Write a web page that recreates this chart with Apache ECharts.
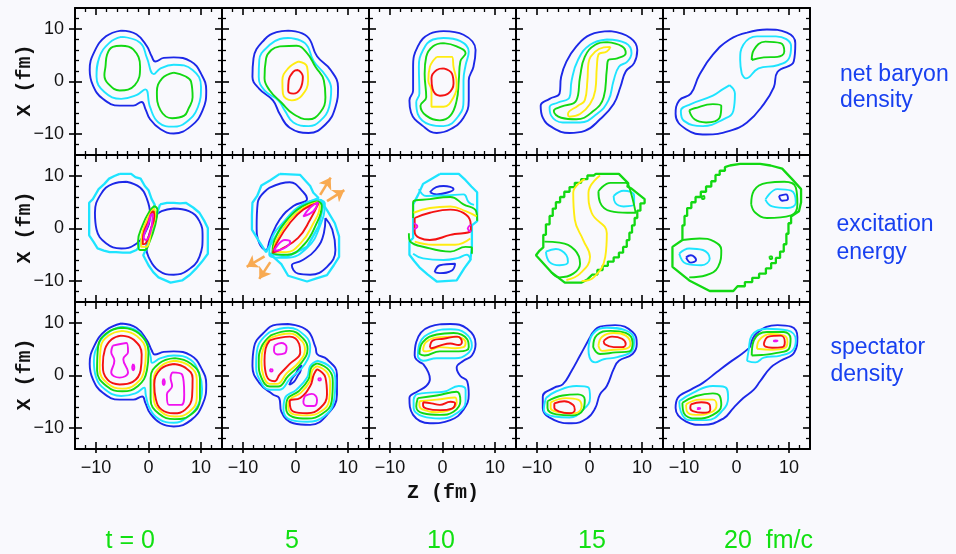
<!DOCTYPE html>
<html>
<head>
<meta charset="utf-8">
<script src="https://cdn.jsdelivr.net/npm/echarts@6/dist/echarts.min.js"></script>
<style>
  html, body { margin: 0; padding: 0; background: #f9f9fd; }
  #chart { width: 956px; height: 554px; }
</style>
</head>
<body>
<div id="chart"></div>
<script>
// ---- axes and labels ----
const axisRange = [-14, 14];
const majorTicks = [-10, 0, 10];
const minorTicks = [-12, -8, -6, -4, -2, 2, 4, 6, 8, 12];
const timeLabels = ['t = 0', '5', '10', '15', '20  fm/c'];
const quantityLabels = [['net baryon', 'density'], ['excitation', 'energy'], ['spectator', 'density']];

// ---- contour rings: [level, [[Z, X], ...]] in fm; level 1 (lowest) .. 6 (highest) ----
const baryonT0 = [
  [1, [[-5.2,9.7],[-2.3,9.0],[-0.3,6.7],[0.6,4.8],[1.3,3.8],[2.9,4.5],[4.8,4.6],[8.1,3.8],[10,1.5],[11,-1.7],[10.3,-5.5],[8.1,-8.5],[4.8,-9.9],[2.3,-9.1],[0.3,-7.2],[-0.6,-5.2],[-1.3,-3.9],[-2.9,-4.6],[-5.5,-4.6],[-8.7,-3.3],[-10.6,-0.7],[-11.2,2.2],[-10.3,5.7],[-8.1,8.6],[-5.2,9.7]]],
  [2, [[-5.2,8.5],[-1.6,7.4],[-0.3,4.5],[1,1.4],[2.3,2.5],[4.8,3.2],[8.4,2.2],[10,-1],[9.4,-4.9],[7.1,-7.8],[4.8,-8.6],[1.9,-7.8],[0.3,-4.9],[-0.6,-1.5],[-2.3,-2.6],[-5.2,-3.3],[-8.4,-2],[-9.9,0.9],[-9.4,4.5],[-7.4,7.4],[-5.2,8.5]]],
  [3, [[-5.2,6.8],[-2.9,6.1],[-1.6,2.8],[-2.6,-0.7],[-5.5,-1.7],[-7.7,-0.4],[-8.4,1.2],[-8.2,2.8],[-7.9,5.1],[-6.8,6.6],[-5.2,6.8]]],
  [3, [[4.8,1.7],[7,1],[8.1,0],[8.4,-3],[7.6,-5.2],[6.8,-6.5],[4.5,-7],[2.3,-5.5],[1.6,-2],[2.6,0.6],[4.8,1.7]]]
];
const baryonT5 = [
  [1, [[-1.4,9.7],[2.2,8.6],[4.1,4.8],[6.7,2.2],[8.1,-1.1],[7.6,-4.9],[5.7,-8.2],[2.5,-9.8],[-1.1,-8.8],[-3,-6.2],[-4.3,-3.6],[-6.9,-1.4],[-8.2,0.9],[-8,4.4],[-5.9,8],[-3.6,9.4],[-1.4,9.7]]],
  [2, [[-1.4,8.3],[1.8,7.3],[3.5,3.8],[5.7,1.2],[6.8,-1.4],[6.4,-4.9],[4.7,-7.5],[2.5,-8.5],[-0.4,-7.8],[-2,-5.6],[-3.3,-3.6],[-5.9,-1.7],[-7,0.9],[-6.9,4.1],[-4.9,7],[-3,8.1],[-1.4,8.3]]],
  [3, [[-3,6.7],[0.2,6.8],[2.2,5.4],[3.8,2.8],[5.4,0.2],[5.7,-3],[4.7,-5.9],[2.5,-7.2],[-0.4,-6.2],[-2.7,-4],[-4.9,-1.7],[-5.9,0.6],[-5.6,4.4],[-4.6,6],[-3,6.7]]],
  [4, [[0.5,3.8],[2.2,2.8],[2.4,0.2],[1.2,-2.7],[-0.7,-3.6],[-2.4,-2.3],[-2.5,0.2],[-1.4,2.5],[0.5,3.8]]],
  [5, [[0.5,2.2],[1.4,0.9],[0.9,-1.4],[-0.4,-2.3],[-1.4,-1.7],[-1.3,0.2],[-0.4,1.9],[0.5,2.2]]]
];
const baryonT10 = [
  [1, [[0.2,9.6],[4,8.9],[6.3,6],[5.9,2.8],[5,0.2],[5,-3.6],[4,-6.9],[1.5,-9.1],[-1.1,-9.8],[-3.7,-8.5],[-6,-5.9],[-6.3,-3.6],[-5.6,-1.7],[-5.6,2.8],[-4.7,6.7],[-2.4,9.1],[0.2,9.6]]],
  [2, [[0.2,8.3],[3.4,7.7],[5,5.7],[4.4,3.1],[4,0.2],[4,-3.6],[3.1,-6.5],[0.2,-8.5],[-2.4,-8.2],[-4.7,-6.2],[-5,-4],[-4.4,-2.3],[-4.5,2.8],[-3.7,6],[-1.8,8],[0.2,8.3]]],
  [3, [[0.2,7.3],[2.7,6.7],[4.4,5.4],[3.4,3.8],[3.1,0.2],[2.7,-3.6],[1.5,-6.5],[-0.5,-7.4],[-3.1,-6.5],[-4.2,-4.6],[-3.1,-3],[-3.4,1.5],[-3.1,4.7],[-1.8,6.7],[0.2,7.3]]],
  [4, [[-1.1,4.7],[1.8,4.7],[2.1,2.8],[2.7,-0.4],[2.1,-3],[0.2,-4.8],[-2.1,-4.8],[-2.1,-1.7],[-2.7,0.2],[-2.4,2.8],[-1.1,4.7]]],
  [5, [[0.2,2.5],[1.8,1.5],[2.1,-0.4],[1.1,-2.3],[-0.5,-2.7],[-1.9,-1.4],[-2.1,0.6],[-1.1,2.2],[0.2,2.5]]]
];
const baryonT15 = [
  [1, [[4,9.6],[7.8,8.3],[9.1,6],[8.5,3.5],[6.9,1.9],[5.9,-1],[4.6,-4.3],[2,-7.2],[-0.9,-9.4],[-3.8,-9.8],[-7,-8.8],[-8.9,-6.9],[-9.3,-4.6],[-7.6,-3.3],[-5.7,-2.3],[-5.4,0.9],[-4.4,3.8],[-2.5,6.7],[0.1,8.9],[4,9.6]]],
  [2, [[3.3,8],[6.9,7.3],[8,5.4],[7.2,3.8],[5.6,2.8],[4.6,0.2],[3.6,-3.6],[1.4,-6.2],[-1.8,-7.8],[-5.1,-7.8],[-7.3,-6.5],[-7.6,-4.9],[-6,-4],[-3.8,-3],[-3.4,0.2],[-2.2,4.1],[0.1,7],[3.3,8]]],
  [3, [[3.3,7.5],[6.2,6.7],[6.9,5.4],[5.3,4.4],[3.6,4.1],[3.3,2.2],[2.7,-3],[0.4,-5.9],[-2.5,-7.2],[-5.4,-6.9],[-6.8,-5.6],[-5.4,-4.8],[-2.5,-3.6],[-1.8,0.9],[-0.9,4.7],[1.1,7],[3.3,7.5]]],
  [4, [[4,6.6],[3.3,5.7],[1.7,5.1],[1.4,2.8],[1.1,-1.7],[0.1,-4.3],[-1.8,-6.2],[-3.8,-6.7],[-4.1,-6.2],[-2.2,-4.6],[-0.9,-3.6],[-0.4,0.2],[-0.2,3.5],[1.1,5.7],[2.7,6.5],[4,6.6]]]
];
const baryonT20 = [
  [1, [[2,9.3],[5.8,9.9],[9.6,9.3],[11.2,7.3],[10.9,3.8],[7.8,1.8],[7.1,-1.1],[5.2,-4.3],[2,-7.8],[-1.3,-9.4],[-5.8,-10.1],[-9.6,-9.1],[-11.6,-6.2],[-10.9,-3.6],[-8.7,-2.3],[-7.1,1.2],[-4.5,5.1],[-1.3,8],[2,9.3]]],
  [2, [[1,1.5],[0.7,4.1],[1.3,7],[3.9,8.6],[7.5,8.6],[10.4,6.7],[10,4.4],[7.8,3.1],[4.2,2.5],[1.8,0.6],[1,1.5]]],
  [2, [[-1.3,-0.7],[-0.3,-2.3],[-0.6,-5.6],[-2.5,-7.2],[-6.4,-8.5],[-10,-7.5],[-10.6,-5.6],[-8.7,-4.3],[-4.5,-2.7],[-2.5,-1.4],[-1.3,-0.7]]],
  [3, [[2.9,4.1],[3.3,6],[5.5,7.6],[8.4,7.3],[9.1,5.7],[7.8,4.7],[5.2,4.6],[2.9,4.1]]],
  [3, [[-9,-5.5],[-8,-5.1],[-4.5,-4.3],[-2.9,-4.6],[-3.2,-6.9],[-5.8,-7.8],[-8,-7.2],[-9,-5.5]]]
];

const excitationT0 = [
  [1, [[-4.2,8.9],[-1.6,7.8],[-0.4,5.9],[0.3,2.7],[-0.7,-0.9],[-2.6,-3.1],[-5.2,-3.8],[-8.1,-2.8],[-9.9,-0.2],[-10.2,3],[-9.1,6.5],[-6.8,8.5],[-4.2,8.9]]],
  [1, [[4.8,3.8],[7.7,3.3],[9.7,1.4],[10.3,-1.5],[9.7,-5.4],[7.4,-8],[4.8,-8.8],[1.9,-8],[0,-5.4],[-0.4,-3.5],[0.4,-0.5],[1.3,2.3],[2.5,3.3],[4.8,3.8]]],
  [3, [[1.1,4.3],[1.7,3.6],[1.3,0.7],[0.1,-2.8],[-0.7,-4.1],[-1.6,-4.1],[-2,-2.5],[-1.1,0.7],[0.2,3.3],[1.1,4.3]]],
  [4, [[1.1,3.8],[1.3,2.7],[0.6,-0.2],[-0.5,-3.5],[-1.4,-3.5],[-1.3,-1.5],[-0.4,1.4],[0.6,3.3],[1.1,3.8]]],
  [5, [[1,3.3],[1.1,2.3],[0.4,-0.2],[-0.5,-2.8],[-1.1,-3],[-1,-1.2],[0,1.4],[0.6,3],[1,3.3]]],
  [6, [[0.8,2.8],[0.6,0.4],[-0.5,-2.2],[-0.9,-1.7],[0,1],[0.4,2.5],[0.8,2.8]]]
];
const excitationT0Edges = [
  [2, [[-5.5,10.4],[-3.3,10.4],[-2.5,9.8],[-1.5,9.5],[-0.7,8.1],[0,7.3],[0.6,5.6],[1.2,4.5],[-1.8,-3.5],[-2.3,-4.1],[-3.5,-4.6],[-4.9,-4.6],[-6.2,-4.5],[-7.4,-4.5],[-8.5,-4.2],[-9.7,-3.8],[-10.5,-2.5],[-11.3,-1.3],[-11.3,4.9],[-10.6,5.6],[-9.5,7.5],[-8.4,8.5],[-7.5,9.5],[-6.5,10],[-5.5,10.4]]],
  [2, [[2.2,4.6],[3.5,4.9],[4.8,4.9],[6,4.8],[7.1,4.9],[8.5,4],[9.7,3],[10.6,1.5],[11.3,0.1],[11.3,-4.8],[10.2,-6.3],[9,-7.7],[7.9,-8.8],[6.4,-9.9],[4.2,-10.3],[1.9,-9.3],[0.9,-8.3],[0,-7],[-1,-5.1],[-0.5,-4],[2.2,4.6]]]
];
const excitationT5 = [
  [1, [[-4.9,7.8],[-1.1,8.8],[1.5,6.9],[2.2,5.6],[-0.4,4.3],[-3,1.7],[-4.9,-2.2],[-5.6,-4.1],[-6.9,-2.8],[-7.4,0.4],[-7.2,4.9],[-4.9,7.8]]],
  [1, [[5.7,2],[7,-0.2],[7.6,-4.1],[6,-7.3],[2.8,-8.8],[0.5,-8.6],[-0.7,-7],[1.2,-6.1],[3.8,-4.1],[5.4,-0.9],[5.7,2]]],
  [2, [[4.6,5.5],[5.6,4.7],[4.6,0.3],[2.3,-3.6],[-1.7,-5.6],[-5,-5],[-4.8,-2.8],[-1.8,1.8],[1.5,4.7],[4.6,5.5]]],
  [3, [[4.2,5.2],[5,4.4],[3.8,0.5],[1.6,-3.1],[-1.6,-5],[-4.4,-4.6],[-4,-2.2],[-1.3,2],[1.5,4.3],[4.2,5.2]]],
  [4, [[4.1,5],[4.6,4.2],[3.3,0.8],[1,-2.8],[-1.8,-4.5],[-4.2,-4.4],[-3.6,-2.2],[-1,1.8],[1.5,3.9],[4.1,5]]],
  [5, [[4.4,4.9],[2.8,1.7],[0.5,-1.8],[-3,-4.1],[-4.3,-4.6],[-3.6,-2.8],[-1.1,1],[1.5,3.6],[4.4,4.9]]],
  [6, [[4.3,5],[3.4,3.3],[1.5,2.3],[2.8,4],[4.3,5]]],
  [6, [[-4.1,-4.2],[-2,-2.2],[-1,-2.5],[-3,-4.1],[-4.1,-4.2]]]
];
const excitationT5Edges = [
  [2, [[-3,10.4],[0.9,10.2],[2.8,8.1],[3.4,6.8],[4.4,5.8],[1.5,4.6],[-1.7,1.7],[-4.6,-2.8],[-5.6,-4.5],[-6.9,-2.5],[-8.3,-0.2],[-8.3,2.5],[-8.2,4.9],[-7.3,6.2],[-6.5,8.2],[-4.8,9.2],[-3,10.4]]],
  [2, [[4.7,5.5],[6,3.5],[7.5,1],[8.3,-1.5],[8.3,-5.4],[7.3,-7],[6,-8.9],[4,-9.5],[2.2,-10.1],[-1.4,-9],[-2.7,-6.8],[-4.9,-4.8],[-1.7,-5.4],[2.2,-3.5],[4.4,0.4],[5.4,4.9],[4.7,5.5]]]
];
const excitationT5Flow = [
  [[4.7,6.4],[6.7,9.7]],
  [[6,5.2],[9.3,7.3]],
  [[-5.9,-5.3],[-9.3,-7.3]],
  [[-4.8,-6.4],[-6.9,-9.6]]
];
const excitationT10 = [
  [1, [[-2.4,6.9],[-1.2,7.9],[0.2,8.1],[2.1,7.5],[1.1,6.9],[-1.1,6.5],[-2.4,6.9]]],
  [1, [[-1.5,-8.3],[-0.5,-7],[2.4,-6.7],[1.8,-8],[-0.5,-8.5],[-1.5,-8.3]]],
  [2, [[-4.5,7.5],[-3.1,6.2],[0.8,6.3],[4,6.5],[5,5],[6,4.5]]],
  [2, [[-5.6,-4.8],[-3.7,-5.7],[0.2,-6],[3,-5.6],[4.6,-5],[5.4,-6]]],
  [3, [[-5.6,2],[-5.6,5],[-2.4,5.6],[1.5,6],[4,4.6],[6.4,3.3],[6.6,1.5]]],
  [3, [[-6.4,-0.9],[-6.3,-2.2],[-2.4,-3.8],[1.5,-4.4],[4.4,-3.5],[5.6,-3.6],[5.6,-4.8]]],
  [4, [[-5.5,3],[-2.4,3.9],[1.5,4.2],[4.4,3.3],[6.5,2.3]]],
  [4, [[-5.3,-2.5],[-1.8,-3.1],[2.4,-3.1],[5.3,-1.9]]],
  [5, [[-5.3,2],[-2.4,3],[1.5,3.6],[5.3,1.4],[5.4,-0.3],[1.5,-1.2],[-2.4,-2.2],[-5.3,-0.6],[-5.3,2]]],
  [6, [[-5.4,1],[-4.8,0.4],[-5.4,-0.1]]],
  [6, [[5.4,0.7],[4.8,0],[5.4,-0.6]]]
];
const excitationT10Edges = [
  [2, [[-0.5,10.4],[3.1,10.4],[4.4,9.2],[5.5,8],[6.6,6.9],[6.6,1.4],[5.6,0.6],[5.6,-3.5],[5.3,-6],[4.2,-7.5],[2.7,-9.9],[-1.1,-10.1],[-2.8,-8.8],[-4.4,-7.4],[-5.4,-6.2],[-6.3,-5],[-6.3,-2.5],[-5.6,-1.8],[-5.6,4.6],[-4.6,6.5],[-3.7,8.5],[-2.2,9.4],[-0.5,10.4]]]
];
const excitationT15 = [
  [4, [[-0.9,9.4],[-3.1,6.8],[-2.8,1.7],[-1.2,-2.2],[0.1,-5.4],[-1.8,-8.6],[-4.4,-9.8]]],
  [4, [[2,10.1],[-0.2,6.8],[0.4,3],[3.3,-0.9],[3,-5.4],[0.8,-9.3],[-1.5,-10]]],
  [3, [[1.7,7.1],[4,8.7],[6.9,8.7],[7.5,8.1],[8.8,3],[7.2,3],[4,3.3],[2,5],[1.7,7.1]]],
  [2, [[4.6,6.2],[6.5,7.2],[8.5,6.2],[8.5,4.6],[6.5,4.2],[4.9,4.9],[4.6,6.2]]],
  [3, [[-8.6,-2.5],[-5.7,-2.7],[-2.8,-4.1],[-1.8,-6.7],[-3.1,-8.6],[-5.7,-9.3],[-7.3,-8.3]]],
  [2, [[-8.3,-4.4],[-6.4,-3.9],[-4.4,-5.1],[-4.1,-6.4],[-5.7,-7],[-7.6,-6.4],[-8.3,-4.4]]]
];
const excitationT15Edges = [
  [3, [[2,10.4],[4.6,10.4],[5.6,10.4],[7.4,8.6],[7.2,8],[8,7.6],[10.5,5.6],[10.5,4.8],[9.7,4.8],[9.7,3.4],[9.1,3.4],[9.1,2],[8.6,2],[8.6,0.6],[8.1,0.6],[8.1,-0.8],[7.6,-0.8],[7.6,-2.2],[7.1,-2.2],[7.1,-3.5],[6.4,-3.5],[6.4,-4.6],[5.6,-4.6],[5.6,-5.5],[4.6,-5.5],[4.6,-6.3],[3.5,-6.3],[3.5,-7.1],[2.5,-7.1],[2.5,-7.9],[1.5,-7.9],[1.5,-8.8],[0.5,-8.8],[-0.4,-9.7],[-1.5,-10.3],[-4.7,-10.3],[-7.3,-8.3],[-10.2,-5.1],[-9.5,-4.2],[-8.8,-3.6],[-8.8,-1.2],[-8.3,-1.2],[-8.3,0.8],[-7.6,0.8],[-7.6,2.4],[-7,2.4],[-7,3.8],[-6.4,3.8],[-6.4,5],[-5.6,5],[-5.6,6],[-4.8,6],[-4.8,7],[-3.8,7],[-3.8,7.9],[-2.8,7.9],[-2.8,8.7],[-1.6,8.7],[-1.6,9.4],[-0.4,9.4],[-0.4,10.1],[0.8,10.1],[1.2,10.4],[2,10.4]]]
];
const excitationT20 = [
  [3, [[2.8,4.6],[3.3,7.2],[5.8,8.7],[9.1,8.9],[11.3,7.8],[11.6,4.6],[10.4,2.5],[5.8,2],[3.6,3],[2.8,4.6]]],
  [2, [[5.5,5.5],[7.8,7.5],[10.4,7.2],[11.3,4.9],[9.7,3.9],[6.8,4.2],[5.5,5.5]]],
  [1, [[8.1,6.2],[9.4,6.5],[9.8,5.6],[8.7,5.3],[8.1,6.2]]],
  [3, [[-10.3,-2.2],[-7,-1.9],[-4.2,-2.5],[-2.9,-4.1],[-3.5,-7.3],[-5.8,-8.9],[-9,-9.3]]],
  [2, [[-10.9,-4.8],[-9,-3.8],[-6.4,-4.1],[-5.1,-5.7],[-6.7,-7],[-9.6,-6.7],[-10.9,-4.8]]],
  [1, [[-9.6,-5.5],[-8.7,-5.1],[-7.7,-6],[-8.7,-6.5],[-9.6,-5.5]]],
  [3, [[-6.6,6.1],[-6.2,6.2],[-6.1,5.8],[-6.5,5.6],[-6.6,6.1]]],
  [3, [[6.3,-5.3],[6.7,-5.3],[6.8,-5.7],[6.4,-5.8],[6.3,-5.3]]]
];
const excitationT20Edges = [
  [3, [[-1.3,12],[0.7,12.3],[4.5,12.3],[6.5,12],[8.7,11.4],[10.5,9.5],[12.3,7.5],[12.3,5],[11.9,3.3],[10.4,2.3],[10.4,1],[9.9,1],[9.9,-1],[9.5,-1],[9.5,-3],[9,-3],[9,-4.4],[8.3,-4.4],[8.3,-5.6],[7.5,-5.6],[7.5,-6.6],[6.6,-6.6],[6.6,-7.6],[5.6,-7.6],[5.6,-8.6],[4.3,-8.6],[4.3,-9.4],[3,-9.4],[3,-10.2],[1.6,-10.2],[1.6,-11],[0.2,-11],[-0.6,-11.9],[-5.1,-11.9],[-9,-9.9],[-12.2,-7.3],[-12.2,-3.5],[-10.3,-2.2],[-10.3,0.6],[-9.9,0.6],[-9.9,2.4],[-9.4,2.4],[-9.4,3.9],[-8.6,3.9],[-8.6,5],[-7.8,5],[-7.8,6],[-6.8,6],[-6.8,7],[-5.8,7],[-5.8,8],[-4.8,8],[-4.8,9],[-4,9],[-4,10.2],[-3.2,10.2],[-3.2,11],[-2.2,11],[-2.2,11.7],[-1.3,12]]]
];

const spectatorT0 = [
  [1, [[-5.2,9.9],[-2.3,9.1],[-0.3,6.7],[0.6,4.8],[1.2,4],[2.9,4.5],[4.8,4.6],[8.1,3.8],[10,1.5],[11,-1.7],[10.3,-5.5],[8.1,-8.5],[4.8,-9.7],[2.3,-9.1],[0.3,-7.2],[-0.6,-5.2],[-1.2,-4],[-2.9,-4.6],[-5.5,-4.6],[-8.7,-3.3],[-10.6,-0.7],[-11.2,2.2],[-10.3,5.7],[-8.1,8.6],[-5.2,9.9]]],
  [2, [[-5.2,9.3],[-2.2,8.5],[-0.4,6.2],[0.4,3.6],[0.7,2.4],[2.3,3.3],[4.8,3.8],[8,3],[9.6,0.5],[10.2,-2.5],[9.4,-5.7],[7.3,-8],[4.8,-9],[2,-8.3],[0.2,-6.2],[-0.5,-3.8],[-0.8,-2.3],[-2.5,-3.4],[-5.2,-3.9],[-8.2,-2.7],[-10,-0.3],[-10.4,2.6],[-9.5,6],[-7.5,8.3],[-5.2,9.3]]],
  [3, [[-5,9.1],[-1.8,8],[0,4.5],[-0.3,1],[-2,-2],[-5,-3],[-8,-2],[-9.8,1],[-9.6,5.5],[-7.8,8.2],[-5,9.1]]],
  [4, [[-5,8.5],[-2.2,7.5],[-0.5,4.5],[-0.8,1],[-2.4,-1.6],[-5,-2.5],[-7.8,-1.5],[-9.3,1.2],[-9.1,5.3],[-7.6,7.6],[-5,8.5]]],
  [5, [[-5.2,7.6],[-2.8,6.8],[-1.3,4],[-1.5,1],[-3,-1.2],[-5.5,-1.7],[-7.8,-0.8],[-8.7,2],[-8.3,5],[-7,6.9],[-5.2,7.6]]],
  [6, [[-6.8,5.7],[-4.2,6.2],[-3.9,4.5],[-4.8,3.1],[-3.9,0.6],[-5.5,-0.4],[-7.1,0.6],[-6.5,2.8],[-7.1,4.5],[-6.8,5.7]]],
  [6, [[-2.9,2.2],[-2.7,1.6],[-2.9,1],[-3.1,1.6],[-2.9,2.2]]],
  [3, [[5,3.3],[8,2.3],[9.8,-0.5],[9.8,-4.5],[8,-7.5],[5,-8.3],[2,-7.3],[0.4,-4.5],[0.4,-0.5],[2,2.3],[5,3.3]]],
  [4, [[5,2.8],[7.8,1.8],[9.2,-0.7],[9.2,-4.3],[7.7,-7],[5,-7.8],[2.3,-6.8],[1,-4.3],[1,-0.8],[2.4,1.8],[5,2.8]]],
  [5, [[4.8,2.2],[7,1.5],[8.4,-0.5],[8.3,-4],[7,-6.5],[4.8,-7.2],[2.5,-6.5],[1.4,-4.5],[1.1,-1.7],[2.3,1.2],[4.8,2.2]]],
  [6, [[4.5,0.6],[6.4,0.2],[6.8,-3.6],[6.2,-5.6],[3.9,-5.6],[3.5,-3.6],[4.5,-2],[4.2,-0.4],[4.5,0.6]]],
  [6, [[2.9,-0.6],[3.1,-1.2],[2.9,-1.8],[2.7,-1.2],[2.9,-0.6]]]
];
const spectatorT5 = [
  [1, [[-1.4,9.8],[2.2,8.6],[3.8,5.4],[4.1,4.1],[6,3.1],[7.9,0.2],[7.9,-3.6],[6,-7.5],[2.8,-9.4],[-0.4,-9.1],[-2.7,-6.9],[-3.1,-4.3],[-4.3,-3.6],[-6.9,-1.4],[-8.2,1.8],[-7.9,5.4],[-6.2,8],[-3.6,9.7],[-1.4,9.8]]],
  [2, [[-4.9,8.3],[-1.4,9.1],[1.8,7.6],[2.8,5.4],[1.8,2.2],[-1.1,-0.7],[-3,-2.7],[-4.9,-2.7],[-6.9,-0.7],[-7.5,2.2],[-7.2,5.4],[-4.9,8.3]]],
  [3, [[-4.6,7.7],[-1.1,8.5],[1.5,7],[2.3,5.1],[1.2,2.5],[-1.4,-0.1],[-3.3,-2.1],[-4.9,-2.1],[-6.5,-0.4],[-7,2.5],[-6.5,5.4],[-4.6,7.7]]],
  [4, [[-4.7,7.2],[-1.1,8],[1.2,6.6],[1.8,5],[0.7,2.6],[-1.7,0.4],[-3.5,-1.6],[-4.9,-1.6],[-6.1,-0.1],[-6.5,2.6],[-6.1,5.3],[-4.7,7.2]]],
  [5, [[-4.9,6.7],[-1.1,7.4],[0.7,6],[0.9,4.4],[-1.1,2.2],[-3,0.2],[-4,-1.1],[-5.5,-0.1],[-5.9,2.8],[-5.7,5.1],[-4.9,6.7]]],
  [6, [[-4,5.7],[-2.7,6.2],[-1.7,5.4],[-2.1,4.2],[-3.4,4],[-4.1,4.8],[-4,5.7]]],
  [6, [[-4.6,1.25],[-4.35,1],[-4.6,0.75],[-4.85,1],[-4.6,1.25]]],
  [2, [[4.1,2.8],[6.7,1.5],[7.6,-1.1],[7.3,-4.9],[5.4,-7.8],[2.2,-8.8],[-0.7,-8.5],[-2.3,-6.5],[-2,-4.3],[0.2,-2.7],[2.2,-0.4],[2.8,1.8],[4.1,2.8]]],
  [3, [[4.1,2.3],[6.4,1],[7.1,-1.3],[6.9,-4.9],[5.1,-7.3],[2.2,-8.2],[-0.5,-7.9],[-1.8,-6.2],[-1.5,-4.4],[0.6,-3],[2.5,-0.7],[3,1.5],[4.1,2.3]]],
  [4, [[4.1,1.8],[6,0.6],[6.6,-1.5],[6.4,-4.8],[4.9,-6.8],[2.2,-7.6],[-0.3,-7.4],[-1.4,-5.8],[-1,-4.5],[1,-3.3],[2.8,-1],[3.2,1],[4.1,1.8]]],
  [5, [[4.1,1.2],[5.7,-0.4],[6,-3.6],[4.7,-6.2],[2.2,-7.2],[-0.4,-6.9],[-1.1,-4.9],[0.9,-4.3],[2.8,-2],[3.5,0.2],[4.1,1.2]]],
  [6, [[1.8,-3.9],[3.1,-3.5],[4.1,-4.6],[3.5,-5.8],[2.2,-5.8],[1.5,-5],[1.8,-3.9]]],
  [6, [[4.6,-0.45],[4.85,-0.7],[4.6,-0.95],[4.35,-0.7],[4.6,-0.45]]],
  [1, [[-1.2,-1.8],[-0.7,-0.7],[0.1,0.4],[0.5,1.2],[1.1,2],[1,1],[0.4,-0.1],[-0.3,-1.2],[-1.2,-1.8]]]
];
const spectatorT10 = [
  [1, [[-3.7,2.2],[-5.3,3.8],[-5,6.4],[-2.4,9.3],[1.5,9.8],[4.7,8.9],[6.3,6],[5.6,3.8],[4,2.8],[2.7,1.5],[3.4,-0.1],[4.7,-1.1],[5,-3.6],[4,-6.5],[1.5,-8.5],[-2.4,-9.1],[-5.6,-7.5],[-6.3,-4.3],[-4.7,-3],[-3.1,-2],[-2.4,-0.7],[-2.7,0.6],[-3.7,2.2]]],
  [2, [[-4.7,3.5],[-4.4,6],[-1.8,8.3],[1.5,8.8],[4.4,8],[5.6,5.7],[4.7,4.1],[2.4,3.3],[-1.1,3.3],[-3.7,2.8],[-4.7,3.5]]],
  [3, [[-4.4,4.1],[-3.7,6.4],[-1.1,7.8],[2.1,8.1],[4.7,6.9],[5,5.4],[3.1,4.6],[-0.5,4.6],[-3.4,3.8],[-4.4,4.1]]],
  [4, [[-3.7,4.7],[-3.1,6.4],[-0.5,7.3],[2.4,7.4],[4.4,6.3],[4,5.4],[2.4,5.2],[-0.5,5.4],[-3.1,4.6],[-3.7,4.7]]],
  [5, [[-2.4,5.4],[-1.8,6.7],[0.2,7],[2.8,7.4],[3.7,6.4],[3.1,5.8],[1.5,6.1],[-0.5,5.7],[-2.1,5.2],[-2.4,5.4]]],
  [2, [[-5,-3.6],[-3.1,-3.3],[0.2,-3.1],[3.1,-2],[4.4,-2.7],[4.4,-4.9],[2.7,-7.2],[-0.5,-8.2],[-3.7,-7.8],[-5.5,-6.2],[-5.5,-4.6],[-5,-3.6]]],
  [3, [[-4.7,-4.3],[-1.1,-3.8],[2.7,-3.1],[3.4,-4.9],[2.1,-6.9],[-0.5,-7.5],[-3.7,-7.2],[-5,-5.9],[-4.7,-4.3]]],
  [4, [[-4.4,-4.9],[-1.1,-4.6],[2.4,-4.2],[2.7,-5.2],[1.5,-6.5],[-1.1,-7],[-3.7,-6.5],[-4.4,-5.7],[-4.4,-4.9]]],
  [5, [[-3.7,-5.1],[-2.1,-5.3],[-0.5,-5.6],[1.5,-5],[2.4,-5.3],[1.8,-6.3],[-0.5,-6.6],[-3,-6.3],[-3.7,-5.7],[-3.7,-5.1]]]
];
const spectatorT15 = [
  [1, [[0.1,7.3],[2,9.3],[4.9,9.6],[8.2,8.3],[9,6],[8.2,4.1],[5.6,2.8],[4.6,1.2],[3.3,-2],[2,-3.6],[1.1,-6.2],[-0.5,-8.2],[-3.4,-9.1],[-6.7,-8.5],[-8.9,-6.2],[-8.9,-4],[-6.7,-2.3],[-5.1,-1.7],[-3.4,0.9],[-1.8,3.8],[0.1,7.3]]],
  [2, [[-0.2,5.1],[0.7,8],[3.3,9.1],[6.9,8.6],[8.5,6.7],[8.2,4.8],[5.3,3.5],[2.7,3.1],[1.1,2.5],[0,3.5],[-0.2,5.1]]],
  [3, [[0.7,5.4],[1.4,7.7],[4,8.5],[6.9,8.1],[8.2,6.3],[7.6,4.6],[5,4.4],[2,4.1],[0.7,5.4]]],
  [4, [[1.7,5.7],[2.4,7.4],[4.6,8.1],[6.9,7.6],[7.8,6],[6.9,5.1],[4.6,4.9],[2.4,4.7],[1.7,5.7]]],
  [5, [[2.7,6.6],[4.3,7.4],[6.2,7],[6.9,6],[6.2,5.4],[4.6,5.4],[3,5.9],[2.7,6.6]]],
  [2, [[-8.3,-4.3],[-6.3,-3],[-2.5,-2],[-0.2,-2.3],[0.1,-4.3],[-1.2,-6.5],[-3.8,-8],[-6.7,-7.8],[-8.7,-6.5],[-8.3,-4.3]]],
  [3, [[-8,-4.9],[-5.1,-3.8],[-2.2,-3.6],[-0.9,-4.6],[-1.2,-6.5],[-3.4,-7.6],[-6.3,-7.4],[-8,-6.2],[-8,-4.9]]],
  [4, [[-7.4,-5.1],[-4.4,-4.3],[-2.2,-4.6],[-1.5,-5.9],[-2.8,-7.2],[-5.7,-7],[-7.4,-6.2],[-7.4,-5.1]]],
  [5, [[-6.7,-5.3],[-4.8,-4.9],[-3.1,-5.6],[-2.8,-6.5],[-3.8,-7.2],[-5.7,-6.9],[-6.7,-6.1],[-6.7,-5.3]]]
];
const spectatorT20 = [
  [1, [[2.6,5.4],[3.9,8.1],[7.8,9.6],[10.4,9.3],[11.6,7.3],[11,4.4],[8.4,2.8],[6.5,1.5],[4.5,-1.1],[3.3,-2.7],[1.3,-4.3],[-0.6,-6.2],[-2.5,-8.2],[-6.4,-9.4],[-9.6,-8.8],[-11.6,-6.2],[-11.2,-4.3],[-8.7,-2.7],[-6.4,-1.4],[-3.8,0.6],[-1.3,2.5],[1,4.1],[2.6,5.4]]],
  [2, [[2,2.8],[2.3,4.7],[2.9,7.6],[5.8,8.9],[9.7,8.6],[11.3,6.7],[10.7,4.8],[8.4,3.8],[5.2,3.4],[3.6,2.5],[2,2.8]]],
  [3, [[2.9,3.8],[3.3,6.7],[5.8,8.3],[9,8.3],[10.3,7],[10,5.1],[7.7,4.3],[4.8,3.9],[2.9,3.8]]],
  [4, [[3.9,5.1],[4.3,6.7],[6.5,7.9],[9.1,7.6],[9.7,6.4],[9.1,5.2],[6.8,4.9],[3.9,5.1]]],
  [5, [[5.2,6],[6.1,7.4],[8.4,7.6],[9.2,6.4],[8.7,5.4],[6.8,5.3],[5.5,5.5],[5.2,6]]],
  [6, [[7,6.6],[7.4,6.7],[7.8,6.6],[7.4,6.5],[7,6.6]]],
  [2, [[-10.9,-4.9],[-8.3,-3.3],[-4.5,-2],[-2.2,-2.2],[-1.6,-4.3],[-2.5,-6.5],[-5.7,-8.5],[-9,-8.5],[-10.6,-6.9],[-10.9,-4.9]]],
  [3, [[-10.3,-5.2],[-7.7,-3.9],[-4.5,-3.4],[-3.2,-3.9],[-2.9,-5.6],[-4.5,-7.5],[-7.7,-8.2],[-10,-7.2],[-10.3,-5.2]]],
  [4, [[-9.6,-5.5],[-7,-4.6],[-4.5,-4.6],[-3.8,-5.6],[-4.8,-7],[-7.7,-7.5],[-9.5,-6.7],[-9.6,-5.5]]],
  [5, [[-8.7,-5.5],[-6.7,-5.1],[-5.1,-5.6],[-5,-6.5],[-6.4,-7.1],[-8.3,-6.8],[-8.8,-6.2],[-8.7,-5.5]]],
  [6, [[-7.5,-6.3],[-7.2,-6.2],[-6.9,-6.3],[-7.2,-6.4],[-7.5,-6.3]]]
];

const panelRings = [
  [baryonT0, baryonT5, baryonT10, baryonT15, baryonT20],
  [excitationT0, excitationT5, excitationT10, excitationT15, excitationT20],
  [spectatorT0, spectatorT5, spectatorT10, spectatorT15, spectatorT20]
];
// stepped outer boundaries of the excitation-energy maps
const panelEdges = [
  [[], [], [], [], []],
  [excitationT0Edges, excitationT5Edges, excitationT10Edges, excitationT15Edges, excitationT20Edges],
  [[], [], [], [], []]
];

// ---- styling ----
const levelColors = { 1: '#1c28e8', 2: '#1ee4ff', 3: '#12d812', 4: '#ffec12', 5: '#f41212', 6: '#f012f0' };
const ink = '#000';
const panelLeft = 75, panelTop = 8, panelSize = 147;
const labelFont = 'Liberation Sans';

const fmt = v => (v < 0 ? '\u2212' + (-v) : String(v));

const grids = [], xAxes = [], yAxes = [], series = [];
const mainX = [], mainY = [];

for (let r = 0; r < 3; r++) {
  for (let c = 0; c < 5; c++) {
    const g = grids.length;
    grids.push({ left: panelLeft + panelSize * c, top: panelTop + panelSize * r, width: panelSize, height: panelSize });
    const base = {
      gridIndex: g, type: 'value', min: axisRange[0], max: axisRange[1], silent: true,
      splitLine: { show: false }, axisLine: { show: false, onZero: false }, axisLabel: { show: false }
    };
    const majorAxis = pos => ({
      ...base, position: pos,
      axisLine: { show: true, onZero: false, lineStyle: { color: ink, width: 2 } },
      axisTick: { show: true, inside: true, length: 7, customValues: majorTicks, lineStyle: { color: ink, width: 1.6 } }
    });
    const minorAxis = pos => ({
      ...base, position: pos,
      axisTick: { show: true, inside: true, length: 4, customValues: minorTicks, lineStyle: { color: ink, width: 1.3 } }
    });
    const outerAxis = (pos, len) => ({
      ...base, position: pos,
      axisTick: { show: true, inside: false, length: len, customValues: majorTicks, lineStyle: { color: ink, width: 1.6 } }
    });
    const label = { show: true, customValues: majorTicks, formatter: fmt, fontFamily: labelFont, fontSize: 18, color: '#111' };

    // bottom / top
    const bx = majorAxis('bottom');
    if (r === 2) bx.axisLabel = { ...label, margin: 10 };
    mainX[g] = xAxes.length;
    xAxes.push(bx, minorAxis('bottom'), majorAxis('top'), minorAxis('top'));
    if (r === 2) xAxes.push(outerAxis('bottom', 4));

    // left / right
    const ly = majorAxis('left');
    if (c === 0) ly.axisLabel = { ...label, margin: 11 };
    mainY[g] = yAxes.length;
    yAxes.push(ly, minorAxis('left'), majorAxis('right'), minorAxis('right'));
    if (c === 0) yAxes.push(outerAxis('left', 6));

    const addRing = (level, pts, stepped) => series.push({
      type: 'line', xAxisIndex: mainX[g], yAxisIndex: mainY[g], data: pts,
      smooth: stepped ? false : 0.45, symbol: 'none', silent: true, animation: false,
      lineStyle: { color: levelColors[level], width: stepped ? 2.3 : 1.9 }, z: 3 + level
    });
    panelEdges[r][c].forEach(([lv, pts]) => addRing(lv, pts, true));
    panelRings[r][c].forEach(([lv, pts]) => addRing(lv, pts, false));

    if (r === 1 && c === 1) {
      series.push({
        type: 'lines', coordinateSystem: 'cartesian2d', xAxisIndex: mainX[g], yAxisIndex: mainY[g],
        data: excitationT5Flow.map(s => ({ coords: s })), symbol: ['none', 'arrow'], symbolSize: 11,
        lineStyle: { color: '#f8aa52', width: 2.6, opacity: 1 }, silent: true, animation: false, z: 12
      });
    }
  }
}

// ---- text ----
const graphic = [];
const titleFont = 'bold 20px "Liberation Mono"';
[0, 1, 2].forEach(r => graphic.push({
  type: 'text', x: 25, y: panelTop + panelSize * r + panelSize / 2 - 1, rotation: Math.PI / 2,
  style: { text: 'X (fm)', font: titleFont, fill: '#111', textAlign: 'center', textVerticalAlign: 'middle' }
}));
graphic.push({
  type: 'text', x: 443, y: 493,
  style: { text: 'Z (fm)', font: titleFont, fill: '#111', textAlign: 'center', textVerticalAlign: 'middle' }
});
const quantityPos = [[840, 74.5, 100.5], [836.5, 225, 253], [830.5, 348, 375]];
quantityLabels.forEach((lines, r) => lines.forEach((t, i) => graphic.push({
  type: 'text', x: quantityPos[r][0], y: quantityPos[r][1 + i],
  style: { text: t, font: '23px "Liberation Sans"', fill: '#1840f0', textAlign: 'left', textVerticalAlign: 'middle' }
})));
const timePos = [105.5, 285, 427, 578, 724];
timeLabels.forEach((t, i) => graphic.push({
  type: 'text', x: timePos[i], y: 541,
  style: { text: t, font: '25px "Liberation Sans"', fill: '#12e012', textAlign: 'left', textVerticalAlign: 'middle' }
}));

const chart = echarts.init(document.getElementById('chart'), null, { renderer: 'canvas' });
chart.setOption({
  backgroundColor: '#f9f9fd',
  animation: false,
  grid: grids,
  xAxis: xAxes,
  yAxis: yAxes,
  series: series,
  graphic: graphic
});
</script>
</body>
</html>
